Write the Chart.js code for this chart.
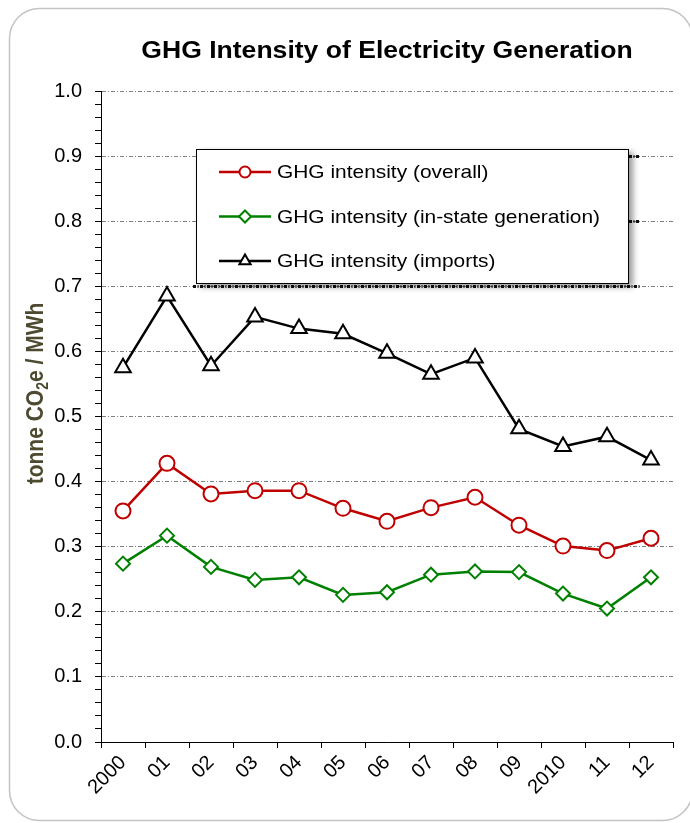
<!DOCTYPE html>
<html>
<head>
<meta charset="utf-8">
<title>GHG Intensity of Electricity Generation</title>
<script src="https://cdn.jsdelivr.net/npm/chart.js@4.4.1/dist/chart.umd.min.js"></script>
<style>
  html, body { margin: 0; padding: 0; background: #fff; }
  canvas { display: block; }
</style>
</head>
<body>
<canvas id="chart" width="690" height="823"></canvas>
<script>
// Year labels along the category axis
const years = ['2000', '01', '02', '03', '04', '05', '06', '07', '08', '09', '2010', '11', '12'];

// GHG intensity, tonne CO2e per MWh
const overall = [0.355, 0.428, 0.381, 0.386, 0.386, 0.359, 0.339, 0.360, 0.376, 0.333, 0.301, 0.294, 0.313];
const inState = [0.274, 0.317, 0.269, 0.249, 0.253, 0.226, 0.230, 0.257, 0.262, 0.261, 0.228, 0.205, 0.253];
const imports = [0.575, 0.685, 0.578, 0.653, 0.635, 0.627, 0.597, 0.565, 0.590, 0.481, 0.454, 0.469, 0.433];

const seriesNames = ['GHG intensity (overall)', 'GHG intensity (in-state generation)', 'GHG intensity (imports)'];
const chartTitle = 'GHG Intensity of Electricity Generation';
const yTitleParts = ['tonne CO', '2', 'e / MWh'];

const FONT = 'Arial, "Liberation Sans", sans-serif';
const RED = '#c00000';
const GREEN = '#008000';
const BLACK = '#000000';
const WIDEN = 1.13; // horizontal widening of the heading/legend type

const isMajor = v => Math.abs(v * 10 - Math.round(v * 10)) < 1e-6;

function wideText(ctx, text, x, y) {
  ctx.save();
  ctx.translate(x, y);
  ctx.scale(WIDEN, 1);
  ctx.fillText(text, 0, 0);
  ctx.restore();
}

// White page with a rounded light-grey frame
const framePlugin = {
  id: 'frame',
  beforeDraw(chart) {
    const { ctx, width, height } = chart;
    ctx.save();
    ctx.fillStyle = '#ffffff';
    ctx.fillRect(0, 0, width, height);
    const x = 9.5, y = 8.5, w = 683, h = 812, r = 30;
    ctx.beginPath();
    ctx.moveTo(x + r, y);
    ctx.lineTo(x + w - r, y);
    ctx.arcTo(x + w, y, x + w, y + r, r);
    ctx.lineTo(x + w, y + h - r);
    ctx.arcTo(x + w, y + h, x + w - r, y + h, r);
    ctx.lineTo(x + r, y + h);
    ctx.arcTo(x, y + h, x, y + h - r, r);
    ctx.lineTo(x, y + r);
    ctx.arcTo(x, y, x + r, y, r);
    ctx.closePath();
    ctx.strokeStyle = '#c4c4c4';
    ctx.lineWidth = 1.5;
    ctx.stroke();
    ctx.restore();
  }
};

// Heading centred over the plot area, and the rotated y-axis title with a subscript
const headingPlugin = {
  id: 'heading',
  afterDraw(chart) {
    const { ctx, chartArea: a } = chart;
    ctx.save();
    ctx.fillStyle = '#000';
    ctx.font = 'bold 23.5px ' + FONT;
    ctx.textAlign = 'center';
    ctx.textBaseline = 'alphabetic';
    wideText(ctx, chartTitle, (a.left + a.right) / 2, a.top - 33);
    ctx.restore();

    // y-axis title
    ctx.save();
    const big = 'bold 21px ' + FONT;
    const small = 'bold 14px ' + FONT;
    ctx.font = big;
    const w0 = ctx.measureText(yTitleParts[0]).width;
    const w2 = ctx.measureText(yTitleParts[2]).width;
    ctx.font = small;
    const w1 = ctx.measureText(yTitleParts[1]).width;
    const total = w0 + w1 + w2;
    const cy = (a.top + a.bottom) / 2 - 23;
    ctx.translate(43, cy);
    ctx.scale(WIDEN, 1);
    ctx.rotate(-Math.PI / 2);
    ctx.fillStyle = '#4d4a30';
    ctx.textAlign = 'left';
    ctx.textBaseline = 'alphabetic';
    let x = -total / 2;
    ctx.font = big;
    ctx.fillText(yTitleParts[0], x, 0);
    x += w0;
    ctx.font = small;
    ctx.fillText(yTitleParts[1], x, 4);
    x += w1;
    ctx.font = big;
    ctx.fillText(yTitleParts[2], x, 0);
    ctx.restore();
  }
};

// Boxed legend inside the plot area, built from the dataset styles
const legendBoxPlugin = {
  id: 'legendBox',
  afterDatasetsDraw(chart) {
    const { ctx, chartArea: a, scales: { y } } = chart;
    const L = a.left + 95, T = a.top + 58, R = a.left + 528, B = a.top + 193;

    // darkened gridline pieces under the box shadow
    ctx.save();
    ctx.strokeStyle = '#111';
    ctx.lineWidth = 3;
    ctx.setLineDash([3, 1.5, 1, 1.5]);
    y.ticks.filter(t => isMajor(t.value)).forEach(t => {
      const py = Math.round(y.getPixelForValue(t.value)) + 0.5;
      ctx.beginPath();
      if (py > T && py < B) {
        ctx.moveTo(R, py); ctx.lineTo(R + 11, py);
      } else if (py >= B && py <= B + 5) {
        ctx.moveTo(L - 3, py); ctx.lineTo(R + 11, py);
      } else {
        return;
      }
      ctx.stroke();
    });
    ctx.restore();

    ctx.save();
    ctx.shadowColor = 'rgba(0,0,0,0.40)';
    ctx.shadowBlur = 6;
    ctx.shadowOffsetX = 4;
    ctx.shadowOffsetY = 3;
    ctx.fillStyle = '#fff';
    ctx.fillRect(L, T, R - L, B - T);
    ctx.restore();

    ctx.save();
    ctx.strokeStyle = '#000';
    ctx.lineWidth = 1;
    ctx.strokeRect(L + 0.5, T + 0.5, R - L - 1, B - T - 1);
    ctx.restore();

    const legendRadius = { circle: 5.5, rectRot: 6, triangle: 6.5 };
    chart.data.datasets.forEach((ds, i) => {
      const cy = T + 23 + i * 44.5;
      ctx.save();
      ctx.strokeStyle = ds.borderColor;
      ctx.lineWidth = ds.borderWidth;
      ctx.beginPath();
      ctx.moveTo(L + 23, cy);
      ctx.lineTo(L + 75, cy);
      ctx.stroke();
      ctx.fillStyle = ds.pointBackgroundColor;
      ctx.strokeStyle = ds.pointBorderColor;
      ctx.lineWidth = ds.pointBorderWidth;
      Chart.helpers.drawPoint(ctx, {
        pointStyle: ds.pointStyle,
        rotation: 0,
        radius: legendRadius[ds.pointStyle],
        borderWidth: ds.pointBorderWidth
      }, L + 49, cy);
      ctx.fillStyle = '#000';
      ctx.font = '18.5px ' + FONT;
      ctx.textAlign = 'left';
      ctx.textBaseline = 'middle';
      wideText(ctx, ds.label, L + 81, cy + 1);
      ctx.restore();
    });
  }
};

function series(label, data, color, style, radius) {
  return {
    label,
    data,
    borderColor: color,
    backgroundColor: color,
    borderWidth: 2.5,
    pointStyle: style,
    pointRadius: radius,
    pointHoverRadius: radius,
    pointBackgroundColor: '#ffffff',
    pointBorderColor: color,
    pointBorderWidth: 2,
    tension: 0,
    fill: false
  };
}

new Chart(document.getElementById('chart').getContext('2d'), {
  type: 'line',
  data: {
    labels: years,
    datasets: [
      series(seriesNames[0], overall, RED, 'circle', 7.5),
      series(seriesNames[1], inState, GREEN, 'rectRot', 7),
      series(seriesNames[2], imports, BLACK, 'triangle', 9)
    ]
  },
  options: {
    responsive: false,
    animation: false,
    devicePixelRatio: 1,
    layout: { padding: { top: 91, left: 0, right: 17, bottom: 0 } },
    plugins: {
      legend: { display: false },
      title: { display: false },
      tooltip: { enabled: false }
    },
    scales: {
      x: {
        type: 'category',
        offset: true,
        grid: {
          display: true,
          drawOnChartArea: false,
          drawTicks: true,
          offset: true,
          tickLength: 6,
          tickColor: '#000',
          tickWidth: 1
        },
        border: { display: true, color: '#000', width: 1 },
        ticks: {
          minRotation: 45,
          maxRotation: 45,
          autoSkip: false,
          padding: 3,
          color: '#000',
          font: { family: FONT, size: 20 }
        },
        afterFit(scale) { scale.height = 81; }
      },
      y: {
        min: 0,
        max: 1,
        grid: {
          color: c => (c.tick && isMajor(c.tick.value)) ? '#808080' : 'rgba(0,0,0,0)',
          lineWidth: 1,
          drawTicks: true,
          tickLength: 6,
          tickColor: '#000',
          tickWidth: 1,
          tickBorderDash: []
        },
        border: { display: true, color: '#000', width: 1, dash: [4, 2, 1, 2] },
        ticks: {
          stepSize: 0.02,
          maxTicksLimit: 100,
          autoSkip: false,
          padding: 13,
          color: '#000',
          font: { family: FONT, size: 20 },
          callback: v => isMajor(v) ? Number(v).toFixed(1) : ''
        },
        afterFit(scale) { scale.width = 101; }
      }
    }
  },
  plugins: [framePlugin, headingPlugin, legendBoxPlugin]
});
</script>
</body>
</html>
